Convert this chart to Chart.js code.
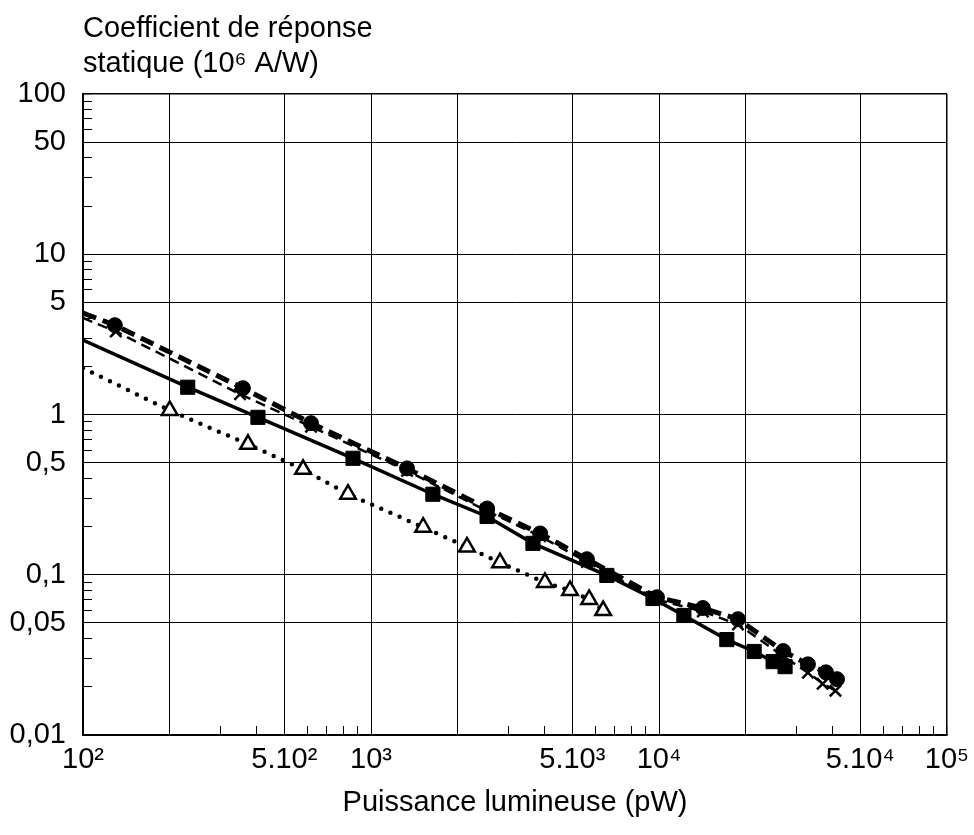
<!DOCTYPE html>
<html>
<head>
<meta charset="utf-8">
<script src="https://cdn.jsdelivr.net/npm/chart.js@4"></script>
<style>
    html, body { margin: 0; padding: 0; background: #fff; }
    #wrap { width: 974px; height: 835px; }
</style>
</head>
<body>
<div id="wrap"><canvas id="chart"></canvas></div>
<script>
// Squares, solid line
const sqX = [100, 231, 405, 866, 1640, 2530, 3650, 6590, 9530, 12200, 17200, 21400, 24900, 27400];
const sqY = [2.91, 1.48, 0.96, 0.533, 0.318, 0.231, 0.157, 0.099, 0.0711, 0.0557, 0.0394, 0.0332, 0.0287, 0.0267];

// Circles, dashed line
const ciX = [100, 129, 359, 619, 1334, 2530, 3866, 5620, 9840, 14200, 18800, 27000, 32900, 38000, 41500];
const ciY = [4.3, 3.61, 1.46, 0.883, 0.461, 0.259, 0.181, 0.125, 0.0724, 0.062, 0.0528, 0.0334, 0.0276, 0.0246, 0.0223];

// Crosses, thin dashed line
const crX = [100, 130, 351, 619, 1334, 2530, 3866, 5620, 9840, 14200, 18800, 27000, 32900, 37000, 41000];
const crY = [4.0, 3.3, 1.34, 0.84, 0.445, 0.25, 0.174, 0.12, 0.07, 0.059, 0.049, 0.031, 0.0245, 0.0209, 0.0189];

// Open triangles, dotted line
const trX = [100, 200, 374, 581, 832, 1517, 2154, 2806, 4017, 4910, 5720, 6400];
const trY = [1.95, 1.06, 0.652, 0.455, 0.318, 0.198, 0.149, 0.119, 0.0895, 0.0798, 0.0701, 0.0598];

// Axes
const xGridValues = [100, 200, 500, 1000, 2000, 5000, 10000, 20000, 50000, 100000];
const xMinorValues = [300, 400, 600, 700, 800, 900, 3000, 4000, 6000, 7000, 8000, 9000,
    30000, 40000, 60000, 70000, 80000, 90000];
const xLabelValues = [100, 500, 1000, 5000, 10000, 50000, 100000];
const xLabelTexts = ['10²', '5.10²', '10³', '5.10³', '10⁴', '5.10⁴', '10⁵'];

const yGridValues = [0.01, 0.05, 0.1, 0.5, 1, 5, 10, 50, 100];
const yMinorValues = [0.02, 0.03, 0.04, 0.06, 0.07, 0.08, 0.09, 0.2, 0.3, 0.4, 0.6, 0.7, 0.8, 0.9,
    2, 3, 4, 6, 7, 8, 9, 20, 30, 40, 60, 70, 80, 90];
const yLabelValues = [0.01, 0.05, 0.1, 0.5, 1, 5, 10, 50, 100];
const yLabelTexts = ['0,01', '0,05', '0,1', '0,5', '1', '5', '10', '50', '100'];

function toPoints(xs, ys) {
    return xs.map((x, i) => ({ x: x, y: ys[i] }));
}

// first point of each line is only where the line starts, no marker
function markerSizes(n, r) {
    return Array.from({ length: n }, (_, i) => i === 0 ? 0 : r);
}

function near(a, b) {
    return Math.abs(a - b) / b < 1e-6;
}

function inList(list, v) {
    return list.some(g => near(v, g));
}

function labelFor(values, texts, v) {
    const i = values.findIndex(l => near(v, l));
    return i >= 0 ? texts[i] : '';
}

Chart.defaults.font.family = "'Liberation Sans', Arial, sans-serif";
Chart.defaults.color = '#000';

const ctx = document.getElementById('chart').getContext('2d');

new Chart(ctx, {
    type: 'scatter',
    data: {
        datasets: [
            {
                label: 'carrés',
                data: toPoints(sqX, sqY),
                showLine: true,
                borderColor: '#000',
                borderWidth: 3.5,
                pointStyle: 'rect',
                pointRadius: markerSizes(sqX.length, 10),
                pointBackgroundColor: '#000',
                pointBorderColor: '#000',
                pointBorderWidth: 1
            },
            {
                label: 'cercles',
                data: toPoints(ciX, ciY),
                showLine: true,
                borderColor: '#000',
                borderWidth: 5,
                borderDash: [14, 7],
                pointStyle: 'circle',
                pointRadius: markerSizes(ciX.length, 7.5),
                pointBackgroundColor: '#000',
                pointBorderColor: '#000',
                pointBorderWidth: 1
            },
            {
                label: 'croix',
                data: toPoints(crX, crY),
                showLine: true,
                borderColor: '#000',
                borderWidth: 2.5,
                borderDash: [10, 6],
                pointStyle: 'crossRot',
                pointRadius: markerSizes(crX.length, 8),
                pointBorderColor: '#000',
                pointBorderWidth: 2.5
            },
            {
                label: 'triangles',
                data: toPoints(trX, trY),
                showLine: true,
                borderColor: '#000',
                borderWidth: 4.5,
                borderDash: [0, 10],
                borderCapStyle: 'round',
                pointStyle: 'triangle',
                pointRadius: markerSizes(trX.length, 9),
                pointBackgroundColor: '#fff',
                pointBorderColor: '#000',
                pointBorderWidth: 2.5
            }
        ]
    },
    options: {
        responsive: true,
        maintainAspectRatio: false,
        animation: false,
        devicePixelRatio: 1,
        layout: {
            padding: { left: 0, right: 27, top: 0, bottom: 0 }
        },
        plugins: {
            legend: { display: false },
            tooltip: { enabled: false },
            title: {
                display: true,
                text: ['Coefficient de réponse', 'statique (10⁶ A/W)'],
                align: 'start',
                fullSize: false,
                color: '#000',
                font: { size: 29, weight: 'normal' },
                padding: { top: 12, bottom: 12.4 }
            }
        },
        scales: {
            x: {
                type: 'logarithmic',
                min: 100,
                max: 100000,
                afterBuildTicks: function(scale) {
                    scale.ticks = xGridValues.concat(xMinorValues)
                        .sort((a, b) => a - b)
                        .map(v => ({ value: v }));
                },
                afterFit: function(scale) {
                    scale.height = 100;
                    scale.paddingLeft = 0;
                    scale.paddingRight = 0;
                },
                border: { color: '#000', width: 1.5 },
                grid: {
                    color: function(c) {
                        return inList(xGridValues, c.tick.value) ? '#000' : 'rgba(0,0,0,0)';
                    },
                    lineWidth: function(c) {
                        return near(c.tick.value, 100000) ? 1.5 : 1;
                    },
                    tickLength: -9,
                    tickColor: '#000',
                    tickWidth: 1
                },
                ticks: {
                    autoSkip: false,
                    maxRotation: 0,
                    padding: 17,
                    font: { size: 29 },
                    color: '#000',
                    callback: function(value) {
                        return labelFor(xLabelValues, xLabelTexts, value);
                    }
                },
                title: {
                    display: true,
                    text: 'Puissance lumineuse (pW)',
                    color: '#000',
                    font: { size: 29 },
                    padding: { top: 0, bottom: 15 }
                }
            },
            y: {
                type: 'logarithmic',
                min: 0.01,
                max: 100,
                afterBuildTicks: function(scale) {
                    scale.ticks = yGridValues.concat(yMinorValues)
                        .sort((a, b) => a - b)
                        .map(v => ({ value: v }));
                },
                afterFit: function(scale) {
                    scale.width = 83;
                    scale.paddingTop = 0;
                    scale.paddingBottom = 0;
                },
                border: { color: '#000', width: 1.5 },
                grid: {
                    color: function(c) {
                        return inList(yGridValues, c.tick.value) ? '#000' : 'rgba(0,0,0,0)';
                    },
                    lineWidth: function(c) {
                        return near(c.tick.value, 100) ? 1.5 : 1;
                    },
                    tickLength: -9,
                    tickColor: '#000',
                    tickWidth: 1
                },
                ticks: {
                    autoSkip: false,
                    padding: 26,
                    font: { size: 29 },
                    color: '#000',
                    callback: function(value) {
                        return labelFor(yLabelValues, yLabelTexts, value);
                    }
                }
            }
        }
    }
});
</script>
</body>
</html>
